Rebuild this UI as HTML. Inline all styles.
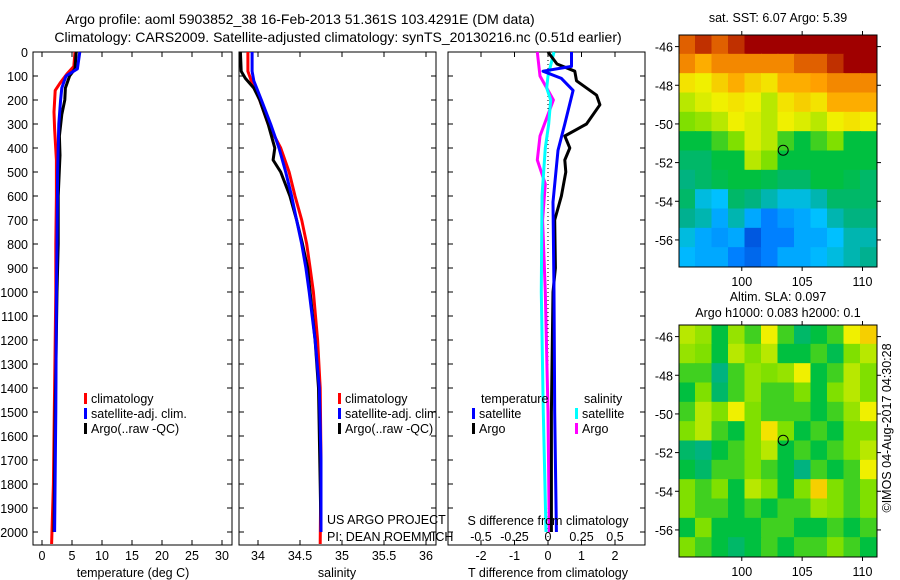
<!DOCTYPE html>
<html><head><meta charset="utf-8">
<style>
html,body{margin:0;padding:0;background:#fff;}
svg{display:block;font-family:"Liberation Sans",sans-serif;}
text{font-size:12.5px;fill:#000;}
text.ttl{font-size:14px;}
</style></head>
<body>
<svg id="chart" width="900" height="580" viewBox="0 0 900 580" xmlns="http://www.w3.org/2000/svg">
<text class="ttl" x="300" y="24" text-anchor="middle">Argo profile: aoml 5903852_38 16-Feb-2013 51.361S 103.4291E (DM data)</text>
<text class="ttl" x="338" y="42" text-anchor="middle">Climatology: CARS2009. Satellite-adjusted climatology: synTS_20130216.nc (0.51d earlier)</text>
<g id="plots"></g>
</svg>
<script>
// ---- profile data (depth, value) ----
const tClimDepth=[0,60,90,130,160,250,320,450,600,800,1000,1400,1800,2050];
const tClimVal=[5.5,5.3,4.2,3.0,2.2,2.0,2.1,2.4,2.4,2.3,2.3,2.1,1.9,1.6];
const tSatDepth=[0,70,100,150,200,300,500,800,1000,1500,2000];
const tSatVal=[6.3,5.9,4.0,3.3,3.1,2.8,2.6,2.5,2.4,2.3,2.1];
const tArgoDepth=[0,70,100,150,200,260,350,430,600,800,1000,1500,2000];
const tArgoVal=[5.7,5.5,4.6,3.9,3.8,3.3,2.9,3.0,2.7,2.7,2.5,2.2,2.0];
const sClimDepth=[0,80,120,200,300,400,500,600,700,800,900,1000,1200,1400,1700,2050];
const sClimVal=[33.88,33.88,33.92,34.02,34.12,34.27,34.37,34.44,34.52,34.58,34.62,34.66,34.71,34.74,34.75,34.74];
const sSatDepth=[0,80,120,200,300,400,500,600,700,800,900,1000,1200,1400,1700,2000];
const sSatVal=[33.93,33.93,33.95,34.04,34.15,34.25,34.33,34.4,34.46,34.52,34.57,34.61,34.68,34.73,34.75,34.75];
const sArgoDepth=[0,80,110,150,200,300,400,450,500,600,700,800,900,1000,1200,1400,1800,2000];
const sArgoVal=[33.79,33.8,33.85,33.95,34.02,34.12,34.2,34.18,34.27,34.38,34.46,34.53,34.59,34.62,34.68,34.72,34.74,34.75];
const dTSatDepth=[0,60,80,110,160,300,410,625,1000,1500,2000];
const dTSatVal=[0.7,0.7,-0.15,0.4,0.75,0.5,0.3,0.15,0.18,0.2,0.25];
const dTArgoDepth=[0,50,80,120,180,220,300,350,400,450,500,600,700,900,1000,1500,2000];
const dTArgoVal=[0,0.27,0.8,0.85,1.45,1.55,1.15,0.5,0.65,0.5,0.53,0.4,0.2,0.22,0.15,0.1,0.1];
const dSArgoDepth=[0,100,200,350,450,550,700,1000,1500,2000];
const dSArgoVal=[-0.08,-0.06,0.04,-0.06,-0.08,-0.02,-0.04,-0.02,0,0.01];
const dSSatDepth=[0,100,150,200,300,400,600,1000,1500,2000];
const dSSatVal=[0.045,0,-0.01,0.02,0.005,-0.02,-0.045,-0.05,-0.035,-0.015];
// ---- ticks ----
const depthTicks=[0,100,200,300,400,500,600,700,800,900,1000,1100,1200,1300,1400,1500,1600,1700,1800,1900,2000];
const tempTicks=[0,5,10,15,20,25,30];
const salTicks=[34,34.5,35,35.5,36];
const salTickLabels=["34","34.5","35","35.5","36"];
const dTTicks=[-2,-1,0,1,2];
const dSTicks=[-0.5,-0.25,0,0.25,0.5];
const dSTickLabels=["-0.5","-0.25","0","0.25","0.5"];
const latTicks=[-46,-48,-50,-52,-54,-56];
const lonTicks=[100,105,110];
// ---- map grids (normalized colour level, rows north->south, cols west->east) ----
const sstGrid=[
[0.9,0.95,0.9,0.95,1,1,1,1,1,1,1,1],
[0.85,0.8,0.85,0.85,0.85,0.85,0.85,0.9,0.9,0.95,1,1],
[0.72,0.7,0.75,0.8,0.75,0.72,0.8,0.8,0.82,0.85,0.85,0.85],
[0.65,0.68,0.7,0.72,0.7,0.65,0.72,0.75,0.72,0.8,0.8,0.8],
[0.6,0.62,0.65,0.7,0.68,0.65,0.7,0.68,0.65,0.7,0.72,0.7],
[0.5,0.5,0.55,0.6,0.68,0.65,0.55,0.5,0.55,0.6,0.5,0.5],
[0.45,0.45,0.5,0.5,0.65,0.6,0.5,0.5,0.5,0.5,0.5,0.5],
[0.42,0.45,0.48,0.5,0.5,0.48,0.45,0.45,0.5,0.5,0.48,0.45],
[0.45,0.35,0.33,0.45,0.42,0.38,0.35,0.35,0.38,0.45,0.45,0.45],
[0.4,0.38,0.3,0.38,0.3,0.25,0.28,0.3,0.33,0.38,0.42,0.42],
[0.35,0.3,0.28,0.3,0.2,0.25,0.25,0.3,0.3,0.33,0.38,0.38],
[0.32,0.3,0.3,0.25,0.22,0.25,0.3,0.3,0.32,0.35,0.38,0.4]];
const slaGrid=[
[0.65,0.62,0.5,0.62,0.55,0.7,0.55,0.45,0.5,0.55,0.7,0.75],
[0.62,0.6,0.5,0.65,0.6,0.65,0.5,0.5,0.55,0.48,0.6,0.65],
[0.55,0.55,0.42,0.55,0.62,0.6,0.62,0.7,0.5,0.55,0.65,0.6],
[0.5,0.6,0.45,0.55,0.62,0.55,0.55,0.6,0.5,0.6,0.65,0.6],
[0.55,0.65,0.6,0.7,0.6,0.55,0.55,0.55,0.5,0.55,0.62,0.7],
[0.6,0.65,0.55,0.5,0.6,0.72,0.6,0.5,0.55,0.5,0.6,0.6],
[0.45,0.42,0.5,0.55,0.6,0.65,0.5,0.55,0.5,0.55,0.6,0.65],
[0.5,0.45,0.55,0.55,0.6,0.55,0.5,0.42,0.55,0.5,0.55,0.7],
[0.6,0.55,0.6,0.5,0.65,0.6,0.5,0.6,0.75,0.6,0.55,0.6],
[0.6,0.55,0.55,0.5,0.55,0.5,0.55,0.55,0.62,0.6,0.55,0.6],
[0.5,0.6,0.5,0.5,0.5,0.55,0.55,0.5,0.5,0.55,0.5,0.55],
[0.6,0.55,0.5,0.45,0.5,0.55,0.5,0.55,0.55,0.6,0.55,0.5]];
const argoLon=103.43, argoLat=-51.36;

const NS='http://www.w3.org/2000/svg';
const root=document.getElementById('plots');
function mk(tag,attrs,parent){const e=document.createElementNS(NS,tag);for(const k in attrs)e.setAttribute(k,attrs[k]);(parent||root).appendChild(e);return e;}
function txt(x,y,s,anchor,parent){const t=mk('text',{x:x,y:y,'text-anchor':anchor||'start'},parent);t.textContent=s;return t;}

const yTop=52, pxPer100=24, yBot=545;
function yD(d){return yTop+d*pxPer100/100;}

const panels=[
 {name:'temperature-panel',x0:33,x1:232,f:v=>42+6*v},
 {name:'salinity-panel',x0:239,x1:436,f:v=>258+84*(v-34)},
 {name:'difference-panel',x0:448,x1:645,f:v=>548+33.5*v}
];
panels.forEach(p=>{
  const g=mk('g',{});
  
  
  p.g=g;
  const r=mk('rect',{x:p.x0,y:yTop,width:p.x1-p.x0,height:yBot-yTop,fill:'none',stroke:'#000','stroke-width':1},g);
  
  
  depthTicks.forEach(d=>{
    mk('line',{x1:p.x0,x2:p.x0+5,y1:yD(d),y2:yD(d),stroke:'#000'},g);
    mk('line',{x1:p.x1,x2:p.x1-5,y1:yD(d),y2:yD(d),stroke:'#000'},g);
  });
});
const yl=mk('g',{});


depthTicks.forEach(d=>txt(28,yD(d)+5,String(d),'end',yl));

function xticks(p,ticks,labels,fn,ly){
  const g=mk('g',{},p.g);
  
  
  ticks.forEach((v,i)=>{const x=fn(v);
    mk('line',{x1:x,x2:x,y1:yBot,y2:yBot-5,stroke:'#000'},g);
    mk('line',{x1:x,x2:x,y1:yTop,y2:yTop+5,stroke:'#000'},g);
    txt(x,ly,labels[i],'middle',g);});
}
xticks(panels[0],tempTicks,tempTicks.map(String),panels[0].f,560);
xticks(panels[1],salTicks,salTickLabels,panels[1].f,560);
xticks(panels[2],dTTicks,dTTicks.map(String),panels[2].f,560);
const fS=v=>548+134*v;
dSTicks.forEach((v,i)=>{txt(fS(v),541,dSTickLabels[i],'middle',panels[2].g);});
let t;
t=txt(133,577,'temperature (deg C)','middle');
t=txt(337,577,'salinity','middle');
t=txt(548,577,'T difference from climatology','middle');
t=txt(548,525,'S difference from climatology','middle');

mk('line',{x1:548,x2:548,y1:yTop,y2:yBot,stroke:'#000','stroke-dasharray':'1,3'},panels[2].g);

function line(p,depths,vals,fn,color,name){
  const pts=depths.map((d,i)=>fn(vals[i]).toFixed(1)+','+yD(d).toFixed(1)).join(' ');
  const l=mk('polyline',{points:pts,fill:'none',stroke:color,'stroke-width':3,'stroke-linejoin':'round'},p.g);
  
  
}
line(panels[0],tClimDepth,tClimVal,panels[0].f,'#ff0000','temperature-climatology-line');
line(panels[0],tArgoDepth,tArgoVal,panels[0].f,'#000000','temperature-argo-line');
line(panels[0],tSatDepth,tSatVal,panels[0].f,'#0000ff','temperature-satellite-line');
line(panels[1],sClimDepth,sClimVal,panels[1].f,'#ff0000','salinity-climatology-line');
line(panels[1],sArgoDepth,sArgoVal,panels[1].f,'#000000','salinity-argo-line');
line(panels[1],sSatDepth,sSatVal,panels[1].f,'#0000ff','salinity-satellite-line');
line(panels[2],dSArgoDepth,dSArgoVal,fS,'#ff00ff','s-diff-argo-line');
line(panels[2],dSSatDepth,dSSatVal,fS,'#00ffff','s-diff-satellite-line');
line(panels[2],dTArgoDepth,dTArgoVal,panels[2].f,'#000000','t-diff-argo-line');
line(panels[2],dTSatDepth,dTSatVal,panels[2].f,'#0000ff','t-diff-satellite-line');

function legend(x,y,color,label,name){
  const g=mk('g',{});
  
  
  mk('rect',{x:x,y:y-10,width:3,height:11,fill:color},g);
  txt(x+7,y,label,'start',g);
}
legend(84,403,'#ff0000','climatology','legend-climatology');
legend(84,418,'#0000ff','satellite-adj. clim.','legend-satellite-adj');
legend(84,433,'#000000','Argo(..raw -QC)','legend-argo');
legend(338,403,'#ff0000','climatology','legend-climatology-2');
legend(338,418,'#0000ff','satellite-adj. clim.','legend-satellite-adj-2');
legend(338,433,'#000000','Argo(..raw -QC)','legend-argo-2');
t=txt(481,403,'temperature');
t=txt(584,403,'salinity');
legend(472,418,'#0000ff','satellite','legend-t-satellite');
legend(472,433,'#000000','Argo','legend-t-argo');
legend(575,418,'#00ffff','satellite','legend-s-satellite');
legend(575,433,'#ff00ff','Argo','legend-s-argo');
t=txt(327,524,'US ARGO PROJECT');
t=txt(327,541,'PI: DEAN ROEMMICH');

// ---- maps ----
const stops=[[0.15,[0,48,192]],[0.25,[0,128,255]],[0.33,[0,192,255]],[0.4,[0,176,144]],[0.5,[0,192,64]],[0.6,[128,224,0]],[0.7,[240,240,0]],[0.82,[255,160,0]],[0.9,[224,96,0]],[1.0,[160,0,0]]];
function cmap(v){
  if(v<=stops[0][0])return 'rgb('+stops[0][1]+')';
  for(let i=1;i<stops.length;i++){if(v<=stops[i][0]){const a=stops[i-1],b=stops[i],tt=(v-a[0])/(b[0]-a[0]);
    return 'rgb('+a[1].map((c,k)=>Math.round(c+(b[1][k]-c)*tt)).join(',')+')';}}
  return 'rgb('+stops[stops.length-1][1]+')';
}
const defs=mk('defs',{});
function map(name,grid,y0,y1){
  const x0=679,x1=877;
  const lonX=lo=>x0+(lo-94.8)*(x1-x0)/(111.2-94.8);
  const latY=la=>y0+(-45.4-la)*(y1-y0)/12;
  const g=mk('g',{});
  
  
  const cp=mk('clipPath',{id:'clip'+name},defs);
  mk('rect',{x:x0,y:y0,width:x1-x0,height:y1-y0},cp);
  const cells=mk('g',{'clip-path':'url(#clip'+name+')'},g);
  const rows=grid.length,cols=grid[0].length,cw=(x1-x0)/cols,ch=(y1-y0)/rows;
  grid.forEach((row,r)=>row.forEach((v,c)=>{
    const cell=mk('rect',{x:x0+c*cw-0.5,y:y0+r*ch-0.5,width:cw+1,height:ch+1,fill:cmap(v)},cells);
    
    
  }));
  mk('rect',{x:x0,y:y0,width:x1-x0,height:y1-y0,fill:'none',stroke:'#000'},g);
  latTicks.forEach(la=>{const y=latY(la);mk('line',{x1:x0,x2:x0-4,y1:y,y2:y,stroke:'#000'},g);mk('line',{x1:x1,x2:x1+4,y1:y,y2:y,stroke:'#000'},g);txt(x0-6,y+5,String(la),'end',g);});
  lonTicks.forEach(lo=>{const x=lonX(lo);mk('line',{x1:x,x2:x,y1:y1,y2:y1+4,stroke:'#000'},g);mk('line',{x1:x,x2:x,y1:y0,y2:y0-4,stroke:'#000'},g);txt(x,y1+19,String(lo),'middle',g);});
  const c=mk('circle',{cx:lonX(argoLon),cy:latY(argoLat),r:5,fill:'none',stroke:'#000'},g);
  
  
}
map('sst-map',sstGrid,35,267);
map('sla-map',slaGrid,325,557);
t=txt(778,22,'sat. SST: 6.07 Argo: 5.39','middle');
t=txt(778,301,'Altim. SLA: 0.097','middle');
t=txt(778,317,'Argo h1000: 0.083 h2000: 0.1','middle');
t=txt(0,0,'©IMOS 04-Aug-2017 04:30:28','middle');t.setAttribute('transform','translate(891,428) rotate(-90)');

</script>
</body></html>
